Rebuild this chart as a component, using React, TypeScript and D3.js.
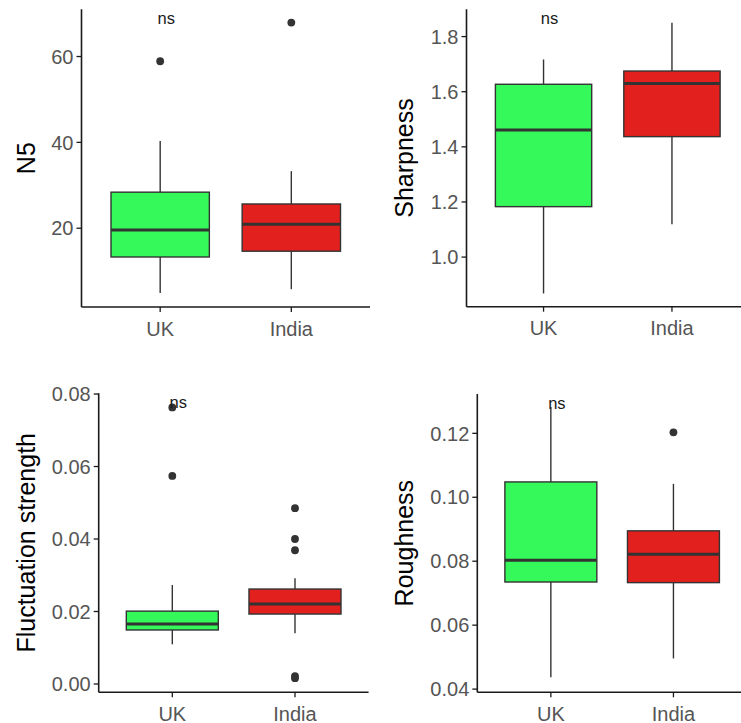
import React from "react";
import * as d3 from "d3";

// ---------- data ----------
const categories = ["UK", "India"];

// [lower whisker, Q1, median, Q3, upper whisker]
const n5Stats = [
  [4.9, 13.3, 19.6, 28.4, 40.3],
  [5.8, 14.65, 20.9, 25.65, 33.3],
];
const n5Outliers = [[58.9], [67.9]];
const n5Ticks = [20, 40, 60];

const sharpStats = [
  [0.868, 1.183, 1.461, 1.627, 1.717],
  [1.119, 1.437, 1.63, 1.675, 1.85],
];
const sharpOutliers: number[][] = [[], []];
const sharpTicks = [1.0, 1.2, 1.4, 1.6, 1.8];

const fluctStats = [
  [0.01095, 0.0149, 0.01655, 0.0201, 0.0273],
  [0.014, 0.0193, 0.0221, 0.0262, 0.0292],
];
const fluctOutliers = [
  [0.0574, 0.0763],
  [0.0485, 0.04, 0.0369, 0.0022, 0.0016],
];
const fluctTicks = [0.0, 0.02, 0.04, 0.06, 0.08];

const roughStats = [
  [0.0437, 0.0735, 0.0803, 0.1048, 0.1282],
  [0.0496, 0.0733, 0.0822, 0.0895, 0.1042],
];
const roughOutliers = [[], [0.1203]];
const roughTicks = [0.04, 0.06, 0.08, 0.1, 0.12];

const fillColors = ["#35F85A", "#E2201E"];
const sigLabel = "ns";

// ---------- layout ----------
type Panel = {
  title: string;
  stats: number[][];
  outliers: number[][];
  ticks: number[];
  fmt: (v: number) => string;
  domain: [number, number];
  left: number;
  right: number;
  top: number;
  bottom: number;
  titleX: number;
};

const panels: Panel[] = [
  {
    title: "N5",
    stats: n5Stats,
    outliers: n5Outliers,
    ticks: n5Ticks,
    fmt: (v) => d3.format("d")(v),
    domain: [1.65, 71.0],
    left: 81.5,
    right: 370,
    top: 9.3,
    bottom: 307,
    titleX: 25.5,
  },
  {
    title: "Sharpness",
    stats: sharpStats,
    outliers: sharpOutliers,
    ticks: sharpTicks,
    fmt: (v) => d3.format(".1f")(v),
    domain: [0.82, 1.899],
    left: 466.5,
    right: 749,
    top: 9.3,
    bottom: 306.7,
    titleX: 404,
  },
  {
    title: "Fluctuation strength",
    stats: fluctStats,
    outliers: fluctOutliers,
    ticks: fluctTicks,
    fmt: (v) => d3.format(".2f")(v),
    domain: [-0.00229, 0.0802],
    left: 98.7,
    right: 368.6,
    top: 393.3,
    bottom: 692.3,
    titleX: 26,
  },
  {
    title: "Roughness",
    stats: roughStats,
    outliers: roughOutliers,
    ticks: roughTicks,
    fmt: (v) => d3.format(".2f")(v),
    domain: [0.039, 0.1323],
    left: 477.3,
    right: 747,
    top: 394,
    bottom: 692.3,
    titleX: 404,
  },
];

const FONT = "'Liberation Sans', Arial, Helvetica, sans-serif";

function BoxPanel({ p }: { p: Panel }) {
  const x = d3
    .scalePoint<string>()
    .domain(categories)
    .range([p.left, p.right])
    .padding(0.6);
  const step = x.step();
  const boxW = step * 0.75;
  const y = d3.scaleLinear().domain(p.domain).range([p.bottom, p.top]);
  const midY = (p.top + p.bottom) / 2;

  return (
    <g>
      {categories.map((c, i) => {
        const [lo, q1, med, q3, hi] = p.stats[i];
        const cx = x(c)!;
        return (
          <g key={c}>
            <line x1={cx} x2={cx} y1={y(hi)} y2={y(q3)} stroke="#333" strokeWidth={1.4} />
            <line x1={cx} x2={cx} y1={y(q1)} y2={y(lo)} stroke="#333" strokeWidth={1.4} />
            <rect
              x={cx - boxW / 2}
              y={y(q3)}
              width={boxW}
              height={y(q1) - y(q3)}
              fill={fillColors[i]}
              stroke="#333"
              strokeWidth={1.4}
            />
            <line
              x1={cx - boxW / 2}
              x2={cx + boxW / 2}
              y1={y(med)}
              y2={y(med)}
              stroke="#333"
              strokeWidth={3}
            />
            {p.outliers[i].map((o, k) => (
              <circle key={k} cx={cx} cy={y(o)} r={3.9} fill="#333" />
            ))}
          </g>
        );
      })}
      <text
        x={x(categories[0])! + 6}
        y={p.top + 14.5}
        textAnchor="middle"
        fontFamily={FONT}
        fontSize={16.5}
        fill="#1a1a1a"
      >
        {sigLabel}
      </text>
      <line x1={p.left} x2={p.left} y1={p.top} y2={p.bottom} stroke="#1a1a1a" strokeWidth={1.6} />
      {p.ticks.map((t) => (
        <g key={t}>
          <line x1={p.left - 5} x2={p.left} y1={y(t)} y2={y(t)} stroke="#1a1a1a" strokeWidth={1.3} />
          <text
            x={p.left - 8}
            y={y(t)}
            dy="0.36em"
            textAnchor="end"
            fontFamily={FONT}
            fontSize={20}
            fill="#555"
          >
            {p.fmt(t)}
          </text>
        </g>
      ))}
      <line x1={p.left} x2={p.right} y1={p.bottom} y2={p.bottom} stroke="#1a1a1a" strokeWidth={1.6} />
      {categories.map((c) => (
        <g key={c}>
          <line x1={x(c)} x2={x(c)} y1={p.bottom} y2={p.bottom + 5} stroke="#1a1a1a" strokeWidth={1.3} />
          <text
            x={x(c)}
            y={p.bottom + 28.5}
            textAnchor="middle"
            fontFamily={FONT}
            fontSize={20}
            fill="#555"
          >
            {c}
          </text>
        </g>
      ))}
      <text
        transform={`translate(${p.titleX},${midY}) rotate(-90)`}
        textAnchor="middle"
        dy="0.36em"
        fontFamily={FONT}
        fontSize={25}
        fill="#000"
      >
        {p.title}
      </text>
    </g>
  );
}

export default function App() {
  return (
    <svg
      width={741}
      height={723}
      style={{ position: "absolute", left: 0, top: 0, background: "#fff" }}
    >
      <rect x={0} y={0} width={741} height={723} fill="#fff" />
      {panels.map((p) => (
        <BoxPanel key={p.title} p={p} />
      ))}
    </svg>
  );
}
